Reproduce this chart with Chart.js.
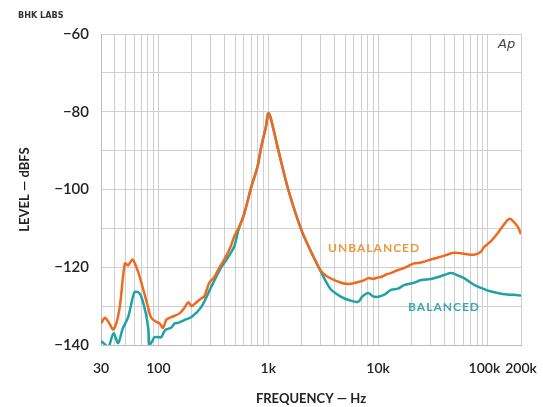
<!DOCTYPE html>
<html>
<head>
<meta charset="utf-8">
<script src="https://cdn.jsdelivr.net/npm/chart.js@4/dist/chart.umd.min.js"></script>
<style>
	html, body { margin: 0; padding: 0; background: #fff; }
	#wrap { width: 543px; height: 407px; }
</style>
</head>
<body>
<div id="wrap"><canvas id="chart" width="543" height="407"></canvas></div>
<script>
// frequency (Hz) / level (dBFS)
const unbalFreq = [30, 32.6, 35, 39, 44, 49.5, 53, 58, 61, 65, 70, 80, 86, 95, 103, 110, 118, 126, 140, 157, 172, 187, 200, 212, 246, 262, 290, 323, 360, 398, 450, 491, 534,
	600, 700, 800, 863, 950, 1000, 1050, 1233, 1520, 2000, 2500, 3030, 3500, 4610, 5500, 6580, 7500, 8110, 9000, 10000, 10650, 12000, 13100, 15200, 17200, 21200, 24600,
	30300, 35100, 40000, 49100, 60000, 74600, 86300, 92000, 105000, 123000, 140000, 155000, 165000, 187000, 200000];
const unbalLevel = [-134.5, -133, -134, -136, -131, -119, -119.5, -118, -119, -121, -124, -130, -133, -134, -134.5, -135.6, -133.5, -133, -132.5, -131.8, -130.5, -129, -130, -129.5, -128, -127.5, -124, -122.5, -120, -118, -115, -112, -110,
	-106.5, -99.4, -94, -89, -84, -80.4, -81.5, -89.8, -100, -110.4, -116.5, -121, -122.5, -124, -124.3, -123.8, -123.3, -122.8, -123, -122.6, -122.5, -121.8, -121.5, -120.7, -120.2, -119, -118.8,
	-118, -117.5, -117, -116.3, -116.5, -116.8, -116, -114.8, -113.5, -111.2, -109, -107.6, -107.8, -109.6, -111.5];

const balFreq = [30, 31.6, 35, 39, 43, 47, 53, 60.5, 66, 70, 77, 81, 83, 88, 92, 100, 106, 113, 118, 131, 140, 152, 172, 200, 246, 303, 374, 440, 491, 534,
	600, 700, 800, 863, 950, 1000, 1050, 1233, 1520, 2000, 2500, 3030, 3400, 3740, 4610, 5500, 6580, 7200, 8110, 9000, 10000, 11500, 13100, 15200, 17200, 21200, 24600,
	30300, 35100, 40000, 46100, 52000, 60500, 74600, 86300, 100000, 123000, 150000, 172000, 200000];
const balLevel = [-139, -139.5, -140.5, -137, -139.5, -136, -132.8, -126.4, -126.5, -127.6, -132, -136, -140, -139, -138, -138, -138, -136.5, -136, -135.5, -134.5, -134.3, -133.6, -132.8, -130.2, -125, -120, -117, -114.6, -110.5,
	-106.5, -99.4, -94, -89, -84, -80.4, -81.5, -89.8, -100, -110.4, -116.5, -121.3, -124, -125.8, -127.6, -128.5, -128.9, -127.5, -126.6, -127.5, -127.6, -127, -125.8, -125.5, -124.6, -124, -123.3,
	-123, -122.5, -122, -121.5, -122, -122.8, -124.5, -125.3, -126, -126.6, -127, -127.1, -127.3];

// grid lines and tick labels
const gridFreqs = [30, 40, 50, 60, 70, 80, 90, 100, 200, 300, 400, 500, 600, 700, 800, 900, 1000, 2000, 3000, 4000, 5000, 6000, 7000, 8000, 9000, 10000,
	20000, 30000, 40000, 50000, 60000, 70000, 80000, 90000, 100000, 200000];
const freqLabels = { 30: '30', 100: '100', 1000: '1k', 10000: '10k', 100000: '100k  ', 200000: '200k' };
const levelLabels = [-60, -80, -100, -120, -140];

const orange = '#ef6a1e';
const teal = '#1fa2a6';

function toPoints(xs, ys) {
	return xs.map((x, i) => ({ x: x, y: ys[i] }));
}

const textPlugin = {
	id: 'texts',
	afterDraw(chart) {
		const ctx = chart.ctx;
		const xs = chart.scales.x, ys = chart.scales.y;
		ctx.save();
		ctx.textAlign = 'center';
		ctx.textBaseline = 'middle';
		ctx.font = 'bold 12px Lato';
		ctx.fillStyle = '#e99a3a';
		ctx.letterSpacing = '1px';
		ctx.fillText('UNBALANCED', xs.getPixelForValue(9200), ys.getPixelForValue(-115));
		ctx.fillStyle = '#3aa8b0';
		ctx.fillText('BALANCED', xs.getPixelForValue(39800), ys.getPixelForValue(-130.2));
		ctx.letterSpacing = '0px';
		ctx.fillStyle = '#333';
		ctx.font = 'bold 9px "DejaVu Sans Condensed"';
		ctx.textAlign = 'left';
		ctx.fillText('BHK LABS', 18, 16);
		ctx.font = 'italic 13px "DejaVu Sans"';
		ctx.fillStyle = '#444';
		ctx.fillText('Ap', 498, 45);
		ctx.restore();
	}
};

const ctx = document.getElementById('chart');
new Chart(ctx, {
	type: 'line',
	data: {
		datasets: [{
			label: 'UNBALANCED',
			data: toPoints(unbalFreq, unbalLevel),
			borderColor: orange,
			borderWidth: 2.5,
			pointRadius: 0,
			tension: 0.3,
			order: 1
		}, {
			label: 'BALANCED',
			data: toPoints(balFreq, balLevel),
			borderColor: teal,
			borderWidth: 2.5,
			pointRadius: 0,
			tension: 0.3,
			order: 2
		}]
	},
	options: {
		responsive: false,
		animation: false,
		layout: { padding: { top: 34, right: 22, left: 17, bottom: 0 } },
		plugins: { legend: { display: false }, tooltip: { enabled: false } },
		scales: {
			x: {
				type: 'logarithmic',
				min: 30,
				max: 200000,
				afterBuildTicks: s => { s.ticks = gridFreqs.map(v => ({ value: v })); },
				afterFit: s => { s.height = 62; s.paddingLeft = 0; s.paddingRight = 0; },
				grid: { color: '#cfcfcf', drawTicks: false },
				border: { color: '#bdbdbd' },
				ticks: {
					autoSkip: false,
					maxRotation: 0,
					padding: 15,
					color: '#222',
					font: { family: 'Lato', size: 14, weight: '600' },
					callback: v => freqLabels[v] || ''
				},
				title: {
					display: true,
					text: 'FREQUENCY \u2014 Hz',
					color: '#222',
					font: { family: 'Lato', size: 13, weight: 'bold' },
					padding: { top: 0, bottom: 0 }
				}
			},
			y: {
				min: -140,
				max: -60,
				afterBuildTicks: s => {
					const t = [];
					for (let v = -140; v <= -60; v += 10) t.push({ value: v });
					s.ticks = t;
				},
				afterFit: s => { s.width = 84; },
				grid: { color: '#cfcfcf', drawTicks: false },
				border: { color: '#bdbdbd' },
				ticks: {
					autoSkip: false,
					padding: 12,
					color: '#222',
					font: { family: 'Lato', size: 15, weight: '600' },
					callback: v => levelLabels.includes(v) ? '\u2212' + Math.abs(v) : ''
				},
				title: {
					display: true,
					text: 'LEVEL \u2014 dBFS',
					color: '#222',
					font: { family: 'Lato', size: 13, weight: 'bold' },
					padding: { top: 0, bottom: 0 }
				}
			}
		}
	},
	plugins: [textPlugin]
});
</script>
</body>
</html>
